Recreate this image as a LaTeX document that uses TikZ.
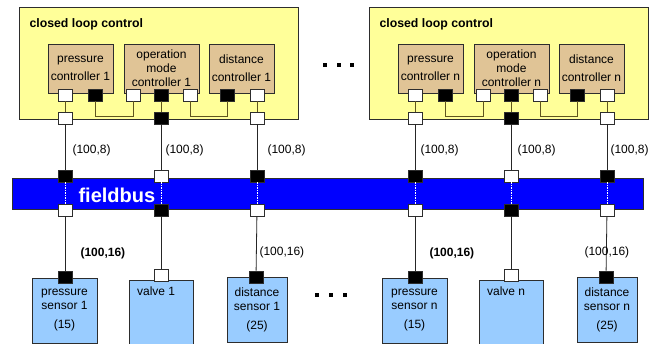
\documentclass[tikz,border=0pt]{standalone}
\usepackage{fontspec}
\setmainfont{Liberation Sans}
\usetikzlibrary{positioning}
\definecolor{LoopYellow}{RGB}{255,255,153}
\definecolor{CtrlTan}{RGB}{224,196,150}
\definecolor{SensorBlue}{RGB}{153,204,255}
\definecolor{BusBlue}{RGB}{0,0,255}
\definecolor{WireOlive}{RGB}{95,85,30}
\definecolor{EdgeGray}{RGB}{45,45,45}

\begin{document}
\begin{tikzpicture}[x=1pt, y=-1pt,
    every node/.style={font=\fontsize{12}{14}\selectfont},
    wport/.style={draw=EdgeGray, fill=white, minimum width=14pt,
                  minimum height=12pt, inner sep=0pt, line width=0.6pt},
    bport/.style={wport, fill=black},
    loopbox/.style={draw=EdgeGray, fill=LoopYellow, line width=0.8pt,
                    minimum width=279pt, minimum height=112pt},
    ctrlbox/.style={draw=EdgeGray, fill=CtrlTan, line width=0.6pt, align=center,
                    minimum height=49pt, inner sep=1pt,
                    font=\fontsize{12}{18}\selectfont},
    sensbox/.style={draw=EdgeGray, fill=SensorBlue, line width=0.8pt, align=center,
                    minimum height=65pt, inner sep=1pt},
    wire/.style={WireOlive, line width=0.8pt},
    link/.style={black!85, line width=0.8pt}]
    \useasboundingbox (0,0) rectangle (653,344);

    % Fieldbus across the whole width
    \node[draw=EdgeGray, fill=BusBlue, line width=0.6pt, minimum width=631pt,
          minimum height=31pt, inner sep=0pt] (bus) at (327.5,193.5) {};
    \node[anchor=west, text=white, font=\fontsize{20}{22}\selectfont\bfseries]
          (busname) at (75,195) {fieldbus};

    % Two closed loops: loop 1 on the left, loop n on the right
    \foreach \dx/\n/\g/\la/\lb/\lc/\ld/\le in
        {0/1/a/69/162/264/77/256, 350/n/b/417/514/607/426/581} {
        % Closed loop control box with its three controllers
        \node[loopbox] (clc\g) at (158.5+\dx,63) {};
        \node[anchor=west, font=\fontsize{12.3}{14}\selectfont\bfseries]
              (clt\g) at (26+\dx,24) {closed loop control};
        \node[ctrlbox, minimum width=65pt] (pc\g) at (80.5+\dx,68.5)
              {pressure\\controller \n};
        \node[ctrlbox, minimum width=75pt, font=\fontsize{12}{14}\selectfont]
              (omc\g) at (161.5+\dx,68.5) {operation\\mode\\controller \n};
        \node[ctrlbox, minimum width=65pt] (dc\g) at (241.5+\dx,68.5)
              {distance\\controller \n};

        % Controller ports
        \node[wport] (pcw\g)  at (65+\dx,95) {};
        \node[bport] (pcb\g)  at (95+\dx,95) {};
        \node[wport] (omw\g)  at (133+\dx,95) {};
        \node[bport] (omb\g)  at (161+\dx,95) {};
        \node[wport] (omx\g)  at (190+\dx,95) {};
        \node[bport] (dcb\g)  at (227+\dx,95) {};
        \node[wport] (dcw\g)  at (257+\dx,95) {};

        % Ports on the edge of the loop box
        \node[wport] (ea\g) at (65+\dx,118) {};
        \node[bport] (eb\g) at (161+\dx,118) {};
        \node[wport] (ec\g) at (257+\dx,118) {};

        % Local wiring inside the loop
        \draw[wire] (pcb\g.south) -- ++(0,15) -| (omw\g.south);
        \draw[wire] (omx\g.south) -- ++(0,15) -| (dcb\g.south);
        \draw[wire] (pcw\g) -- (ea\g);
        \draw[wire] (omb\g) -- (eb\g);
        \draw[wire] (dcw\g) -- (ec\g);

        % Bus ports, top and bottom side
        \node[bport] (ta\g) at (65+\dx,176) {};
        \node[wport] (tb\g) at (161+\dx,176) {};
        \node[bport] (tc\g) at (257+\dx,176) {};
        \node[wport] (ba\g) at (65+\dx,210) {};
        \node[bport] (bb\g) at (161+\dx,210) {};
        \node[wport] (bc\g) at (257+\dx,210) {};
        \foreach \p in {a, b, c} {
            \draw[link] (e\p\g) -- (t\p\g);
            \draw[white, line width=0.4pt, dashed, dash pattern=on 1.5pt off 1pt]
                (t\p\g) -- (b\p\g);
        }
        \node[anchor=west] (ra\g) at (\la,150) {(100,8)};
        \node[anchor=west] (rb\g) at (\lb,150) {(100,8)};
        \node[anchor=west] (rc\g) at (\lc,150) {(100,8)};

        % Sensors and valve
        \node[sensbox, minimum width=65pt] (ps\g) at (64.5+\dx,310.5)
              {pressure\\sensor \n\\[5pt](15)};
        \node[sensbox, minimum width=64pt, minimum height=64pt,
              label={[anchor=north west, xshift=5pt, yshift=-4pt]north west:valve \n}]
              (vl\g) at (161+\dx,312) {};
        \node[sensbox, minimum width=60pt] (ds\g) at (257+\dx,309.5)
              {distance\\sensor \n\\[5pt](25)};
        \node[bport] (sa\g) at (65+\dx,277) {};
        \node[wport] (sb\g) at (161+\dx,275) {};
        \node[bport] (sc\g) at (256+\dx,277) {};
        \foreach \p in {a, b, c} {
            \draw[link] (b\p\g) -- (s\p\g);
        }
        \node[anchor=west, font=\fontsize{12}{14}\selectfont\bfseries]
              (rd\g) at (\ld,253) {(100,16)};
        \node[anchor=west] (re\g) at (\le,252) {(100,16)};
    }

    % Dots between loop 1 and loop n
    \foreach \x/\y in {325/65, 339/65, 352/65, 317/295, 331/295, 345/295} {
        \fill[black] (\x-2,\y-2) rectangle ++(4,4);
    }
\end{tikzpicture}
\end{document}
